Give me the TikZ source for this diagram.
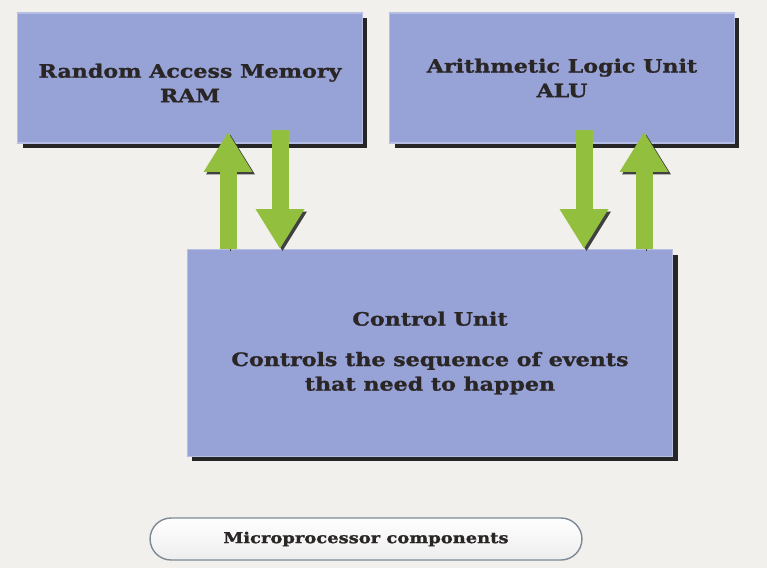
\documentclass[tikz,border=0pt]{standalone}
\usepackage{fontspec}
\usepackage{tikz}
\usetikzlibrary{arrows.meta,shadows}
\newfontfamily\slabfont{DejaVu Serif}[FakeStretch=1.2, BoldFeatures={FakeBold=1.3}]
\definecolor{paper}{RGB}{242,240,237}
\definecolor{boxblue}{RGB}{151,163,215}
\definecolor{inkdark}{RGB}{43,38,38}
\definecolor{arrowgreen}{RGB}{146,192,62}
\definecolor{capline}{RGB}{125,138,150}

\begin{document}
\begin{tikzpicture}[x=0.02cm, y=-0.02cm,
	every node/.style={align=center, text=inkdark, font=\slabfont\bfseries\fontsize{10.5}{14}\selectfont},
	unit/.style={fill=boxblue, draw=boxblue!70!white, line width=0.6pt, minimum width=6.9cm, minimum height=2.6cm,
		drop shadow={shadow xshift=0.1cm, shadow yshift=-0.1cm, fill=black!85, opacity=1}},
	garrow/.style={line width=0.34cm, draw=arrowgreen, -{Triangle[width=0.92cm, length=0.8cm]},
		preaction={draw=black!75, transform canvas={xshift=0.05cm, yshift=-0.05cm}}}]
			\fill[paper] (0,0) rectangle (767,568);
			\useasboundingbox (0,0) rectangle (767,568);
			
			\node[unit] (ram) at (190,78){\raisebox{-4pt}[\height][\depth]{\begin{tabular}{@{}c@{}}Random Access Memory\\RAM\end{tabular}}};
			\node[unit] (alu) at (562,78){Arithmetic Logic Unit\\ALU};
			\node[unit, minimum width=9.72cm, minimum height=4.14cm] (cu) at (430,353){Control Unit\\[9pt]Controls the sequence of events\\that need to happen};
			
			\node[draw=capline, line width=0.8pt, rounded corners=0.42cm, top color=white, bottom color=gray!14,
				minimum width=8.64cm, minimum height=0.84cm, font=\slabfont\bfseries\fontsize{8.5}{11}\selectfont] (caption) at (366,539){Microprocessor components};
			
			% connector ends inside the upper boxes
			\coordinate (ramup) at (228,132);
			\coordinate (ramdn) at (280,130);
			\coordinate (aludn) at (584,130);
			\coordinate (aluup) at (644,132);
			
			\path[garrow] (cu.north -| ramup) -- (ramup);
			\path[garrow] (ramdn) -- (cu.north -| ramdn);
			\path[garrow] (aludn) -- (cu.north -| aludn);
			\path[garrow] (cu.north -| aluup) -- (aluup);
\end{tikzpicture}
\end{document}
